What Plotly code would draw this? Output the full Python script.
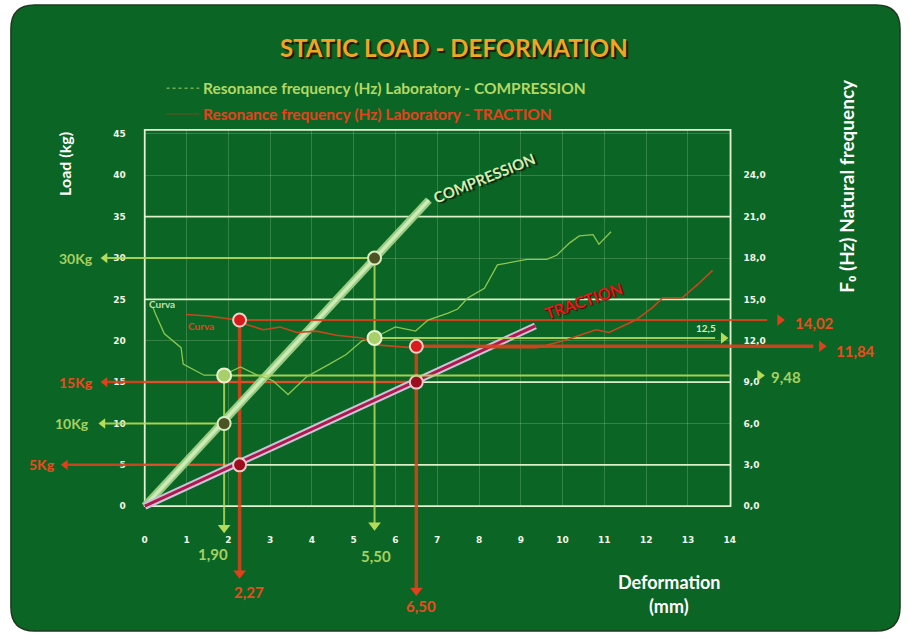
import plotly.graph_objects as go

W, H = 909, 640

# ---------------- data ----------------
deform_ticks = list(range(15))
load_ticks = list(range(0, 50, 5))
freq_ticks = [0, 3, 6, 9, 12, 15, 18, 21, 24]
freq_ticktext = ["0,0", "3,0", "6,0", "9,0", "12,0", "15,0", "18,0", "21,0", "24,0"]

comp_line_mm = [0, 6.8]
comp_line_kg = [0, 37.0]
trac_line_mm = [0, 9.35]
trac_line_kg = [0, 21.8]

comp_freq_mm = [0.2, 0.25, 0.47, 0.87, 0.92, 1.42, 1.87, 2.29, 2.70, 3.07, 3.43, 3.88, 4.42, 4.82,
                5.2, 5.48, 6.0, 6.48, 6.78, 7.26, 7.49, 7.73, 8.13, 8.44, 9.15, 9.62, 9.86, 10.17,
                10.4, 10.73, 10.87, 11.16]
comp_freq_hz = [14.4, 14.0, 12.5, 11.5, 10.3, 9.5, 9.5, 10.1, 9.5, 9.1, 8.1, 9.4, 10.3, 11.0,
                12.0, 12.2, 13.0, 12.7, 13.5, 14.0, 14.3, 15.1, 15.8, 17.5, 17.9, 17.9, 18.2, 19.1,
                19.6, 19.7, 19.0, 19.9]

trac_freq_mm = [0.99, 1.51, 2.22, 2.41, 2.84, 3.24, 3.64, 4.11, 4.59, 5.2, 5.53, 6.38, 7.26, 8.3,
                9.39, 10.02, 10.8, 11.11, 11.75, 12.15, 12.39, 12.86, 13.24, 13.59]
trac_freq_hz = [13.9, 13.8, 13.5, 13.2, 12.8, 13.0, 12.6, 12.7, 12.4, 12.2, 11.7, 11.5, 11.6, 11.5,
                11.5, 12.0, 12.8, 12.6, 13.5, 14.4, 15.1, 15.1, 16.1, 17.1]

comp_pts_mm = [1.9, 5.5]
comp_pts_kg = [10, 30]
comp_fpts_hz = [9.48, 12.2]
trac_pts_mm = [2.27, 6.5]
trac_pts_kg = [5, 15]
trac_fpts_hz = [13.5, 11.6]

kg_labels = ["10Kg", "30Kg", "5Kg", "15Kg"]
mm_labels = ["1,90", "5,50", "2,27", "6,50"]
hz_labels = ["9,48", "12,5", "14,02", "11,84"]

FREQ_PER_KG = 0.6

# ---------------- geometry ----------------
PX0, PX1 = 143, 734          # plot area pixels (x)
PYB, PYT = 510, 130          # plot area pixels (y, bottom/top)
XR = [0, 14.02]
YR = [0, 45.5]
XK = (PX1 - PX0) / (XR[1] - XR[0])
YK = (PYB - PYT) / (YR[1] - YR[0])
x_full = [XR[0] - PX0 / XK, XR[0] + (W - PX0) / XK]
y_full = [YR[0] - (H - PYB) / YK, YR[0] + PYB / YK]
f_full = [v * FREQ_PER_KG for v in y_full]


def pp(px, py):
    return px / W, 1 - py / H


GREEN = "#b4dc5a"
GREEN_TXT = "#a6d062"
RED = "#e0401c"
RED_TXT = "#ee4a1e"
BG = "#0b6524"
FONT = "Lato"

fig = go.Figure()

# invisible traces to materialise main axes
fig.add_trace(go.Scatter(x=XR, y=YR, mode="markers", marker=dict(opacity=0), hoverinfo="skip",
                         showlegend=False, xaxis="x", yaxis="y"))
fig.add_trace(go.Scatter(x=XR, y=[0, 27], mode="markers", marker=dict(opacity=0), hoverinfo="skip",
                         showlegend=False, xaxis="x", yaxis="y3"))


def line(xs, ys, color, width, yaxis="y2", dash=None, opacity=1.0):
    fig.add_trace(go.Scatter(x=xs, y=ys, mode="lines", line=dict(color=color, width=width, dash=dash),
                             opacity=opacity, hoverinfo="skip", showlegend=False,
                             xaxis="x2", yaxis=yaxis))


def head(x, y, symbol, color, size, yaxis="y2"):
    fig.add_trace(go.Scatter(x=[x], y=[y], mode="markers",
                             marker=dict(symbol=symbol, color=color, size=size, line=dict(width=0)),
                             hoverinfo="skip", showlegend=False, xaxis="x2", yaxis=yaxis))


# ---- horizontal load reference lines (to the left) ----
load_refs = [
    (comp_pts_kg[0], comp_pts_mm[0], -0.95, GREEN, 2),
    (comp_pts_kg[1], comp_pts_mm[1], -0.90, GREEN, 2),
    (trac_pts_kg[0], trac_pts_mm[0], -1.85, RED, 2.5),
    (trac_pts_kg[1], trac_pts_mm[1], -0.90, RED, 2.5),
]
for kg, mm, x0, col, w in load_refs:
    line([x0, mm], [kg, kg], col, w, opacity=0.9)
    head(x0 - 0.05, kg, "triangle-left", col, 9)

# ---- horizontal frequency reference lines (to the right) ----
freq_refs = [
    (comp_fpts_hz[0], comp_pts_mm[0], 14.0, 14.72, GREEN, 2),
    (comp_fpts_hz[1], comp_pts_mm[1], 13.65, 13.85, GREEN, 2),
    (trac_fpts_hz[0], trac_pts_mm[0], 14.9, 15.2, RED, 2),
    (trac_fpts_hz[1], trac_pts_mm[1], 16.0, 16.2, RED, 3.5),
]
for hz, mm, x1, xa, col, w in freq_refs:
    line([mm, x1], [hz, hz], col, w, yaxis="y4", opacity=0.9)
    head(xa, hz, "triangle-right", col, 10, yaxis="y4")

# ---- vertical deformation reference lines (downwards) ----
vert_refs = [
    (comp_pts_mm[0], comp_fpts_hz[0] / FREQ_PER_KG, -2.6, GREEN, 2),
    (comp_pts_mm[1], comp_pts_kg[1], -2.3, GREEN, 2),
    (trac_pts_mm[0], trac_fpts_hz[0] / FREQ_PER_KG, -8.1, RED, 3.5),
    (trac_pts_mm[1], trac_fpts_hz[1] / FREQ_PER_KG, -10.2, RED, 3.5),
]
for mm, ktop, kbot, col, w in vert_refs:
    line([mm, mm], [ktop, kbot], col, w, opacity=0.85)
    head(mm, kbot, "triangle-down", col, 11)

# ---- frequency curves ----
line(comp_freq_mm, comp_freq_hz, "#8cc850", 1.3, yaxis="y4")
line(trac_freq_mm, trac_freq_hz, "#c8481e", 1.6, yaxis="y4")

# ---- main load lines ----
line(comp_line_mm, comp_line_kg, "#98cc80", 8)
line(comp_line_mm, comp_line_kg, "#cdebb8", 3.5)
line(trac_line_mm, trac_line_kg, "#c9c3dc", 7)
line(trac_line_mm, trac_line_kg, "#b0184a", 3)

# ---- markers ----
fig.add_trace(go.Scatter(x=comp_pts_mm, y=comp_pts_kg, mode="markers",
                         marker=dict(size=13, color="#4d5424", line=dict(color="#d8ecc0", width=2)),
                         hoverinfo="skip", showlegend=False, xaxis="x2", yaxis="y2"))
fig.add_trace(go.Scatter(x=comp_pts_mm, y=comp_fpts_hz, mode="markers",
                         marker=dict(size=14, color="#a8cf6a", line=dict(color="#e6f4d0", width=2)),
                         hoverinfo="skip", showlegend=False, xaxis="x2", yaxis="y4"))
fig.add_trace(go.Scatter(x=trac_pts_mm, y=trac_pts_kg, mode="markers",
                         marker=dict(size=13, color="#9a0e1e", line=dict(color="#f0c8c8", width=2)),
                         hoverinfo="skip", showlegend=False, xaxis="x2", yaxis="y2"))
fig.add_trace(go.Scatter(x=trac_pts_mm, y=trac_fpts_hz, mode="markers",
                         marker=dict(size=13, color="#d81c1c", line=dict(color="#f4d0c8", width=2)),
                         hoverinfo="skip", showlegend=False, xaxis="x2", yaxis="y4"))

# ---------------- shapes ----------------
shapes = []
x0c, y0c, x1c, y1c, r = 8, 4, 905, 636, 24


def P(px, py):
    a, b = pp(px, py)
    return f"{a:.5f},{b:.5f}"


path = (f"M {P(x0c + r, y0c)} L {P(x1c - r, y0c)} Q {P(x1c, y0c)} {P(x1c, y0c + r)} "
        f"L {P(x1c, y1c - r)} Q {P(x1c, y1c)} {P(x1c - r, y1c)} "
        f"L {P(x0c + r, y1c)} Q {P(x0c, y1c)} {P(x0c, y1c - r)} "
        f"L {P(x0c, y0c + r)} Q {P(x0c, y0c)} {P(x0c + r, y0c)} Z")
shapes.append(dict(type="path", path=path, xref="paper", yref="paper", layer="below",
                   fillcolor=BG, line=dict(color="#203820", width=1.5)))
for kg in [5, 15, 25, 35]:
    shapes.append(dict(type="line", xref="x2", yref="y2", x0=XR[0], x1=XR[1], y0=kg, y1=kg,
                       layer="below", line=dict(color="#dcefc8", width=1.6)))
shapes.append(dict(type="rect", xref="x2", yref="y2", x0=XR[0], x1=XR[1], y0=YR[0], y1=YR[1],
                   layer="below", line=dict(color="#e2f2d2", width=1.8)))
a0, b0 = pp(165, 88)
a1, _ = pp(198, 88)
shapes.append(dict(type="line", xref="paper", yref="paper", x0=a0, x1=a1, y0=b0, y1=b0,
                   line=dict(color="#a8d070", width=1, dash="dot")))
a0, b0 = pp(165, 114)
a1, _ = pp(198, 114)
shapes.append(dict(type="line", xref="paper", yref="paper", x0=a0, x1=a1, y0=b0, y1=b0,
                   line=dict(color="#7a4a20", width=1)))

# ---------------- annotations ----------------
ann = []


def ptext(text, px, py, size, color, xanchor="center", angle=0, shadow=None, family=FONT):
    a, b = pp(px, py)
    ann.append(dict(text=text, x=a, y=b, xref="paper", yref="paper", xanchor=xanchor,
                    yanchor="middle", showarrow=False, textangle=angle,
                    font=dict(family=family, size=size, color=color, weight="bold",
                              shadow=shadow or "none")))


def dtext(text, x, y, size, color, yref="y2", xanchor="center", angle=0, shadow=None):
    ann.append(dict(text=text, x=x, y=y, xref="x2", yref=yref, xanchor=xanchor,
                    yanchor="middle", showarrow=False, textangle=angle,
                    font=dict(family=FONT, size=size, color=color, weight="bold",
                              shadow=shadow or "none")))


ptext("STATIC LOAD - DEFORMATION", 455, 47, 24, "#f2a524", shadow="2px 2px 1px #1a1a00")
ptext("Resonance frequency (Hz) Laboratory - COMPRESSION", 200, 88, 15.5, "#b2d866", xanchor="left")
ptext("Resonance frequency (Hz) Laboratory - TRACTION", 200, 114, 15.5, "#e8401e", xanchor="left")
ptext("Load (kg)", 62, 164, 16, "white", angle=-90)
ptext("F\u2080 (Hz) Natural frequency", 851, 187, 19, "white", angle=-90)
ptext("Deformation", 672, 587, 18, "white")
ptext("(mm)", 672, 611, 18, "white")

dtext("COMPRESSION", 8.11, 39.7, 15, "#d4ecb0", angle=-22, shadow="2px 2px 1px #102010")
dtext("TRACTION", 10.5, 24.9, 16, "#e81c1c", angle=-19, shadow="1px 1px 1px #400000")
dtext("Curva", 0.42, 24.4, 10, "#c8e0b0")
dtext("Curva", 1.35, 21.8, 10, "#e8401e")

kg_pos = [(-1.28, comp_pts_kg[0], GREEN_TXT), (-1.2, comp_pts_kg[1], GREEN_TXT),
          (-2.09, trac_pts_kg[0], RED_TXT), (-1.2, trac_pts_kg[1], RED_TXT)]
for lab, (x, y, col) in zip(kg_labels, kg_pos):
    dtext(lab, x, y, 14, col, xanchor="right")

mm_pos = [(1.64, -5.75, GREEN_TXT), (5.53, -6.0, GREEN_TXT),
          (2.49, -10.4, RED_TXT), (6.62, -12.0, RED_TXT)]
for lab, (x, y, col) in zip(mm_labels, mm_pos):
    dtext(lab, x, y, 15, col)

hz_pos = [(14.95, 9.34, GREEN_TXT, 15), (13.15, 12.93, "#d8ecc0", 10),
          (15.52, 13.29, RED_TXT, 15), (16.49, 11.28, RED_TXT, 15)]
for lab, (x, y, col, s) in zip(hz_labels, hz_pos):
    dtext(lab, x, y, s, col, yref="y4", xanchor="left")

# ---------------- layout ----------------
tickfont = dict(family="DejaVu Sans", size=9, color="#f0f6e8", weight="bold")
faint = "rgba(200,235,190,0.22)"
fig.update_layout(
    width=W, height=H, margin=dict(l=0, r=0, t=0, b=0),
    paper_bgcolor="white", plot_bgcolor="rgba(0,0,0,0)",
    showlegend=False, shapes=shapes, annotations=ann,
    xaxis=dict(domain=[PX0 / W, PX1 / W], range=XR, tickvals=deform_ticks, tickfont=tickfont,
               showgrid=True, gridcolor=faint, gridwidth=1, zeroline=False, showline=False,
               ticks="", ticklabelstandoff=27, anchor="y", fixedrange=True),
    yaxis=dict(domain=[1 - PYB / H, 1 - PYT / H], range=YR, tickvals=load_ticks, tickfont=tickfont,
               showgrid=True, gridcolor=faint, gridwidth=1, zeroline=False, showline=False,
               ticks="", ticklabelstandoff=18, anchor="x", fixedrange=True),
    yaxis3=dict(overlaying="y", side="right", anchor="x",
                range=[YR[0] * FREQ_PER_KG, YR[1] * FREQ_PER_KG],
                tickvals=freq_ticks, ticktext=freq_ticktext, tickfont=tickfont,
                showgrid=False, zeroline=False, showline=False, ticks="", ticklabelstandoff=12,
                fixedrange=True),
    xaxis2=dict(domain=[0, 1], range=x_full, visible=False, anchor="y2", fixedrange=True),
    yaxis2=dict(domain=[0, 1], range=y_full, visible=False, anchor="x2", fixedrange=True),
    yaxis4=dict(overlaying="y2", range=f_full, visible=False, anchor="x2", fixedrange=True),
)

fig.write_html("out.html", config={"displayModeBar": False},
               post_script="document.body.style.margin='0';document.body.style.padding='0';")
